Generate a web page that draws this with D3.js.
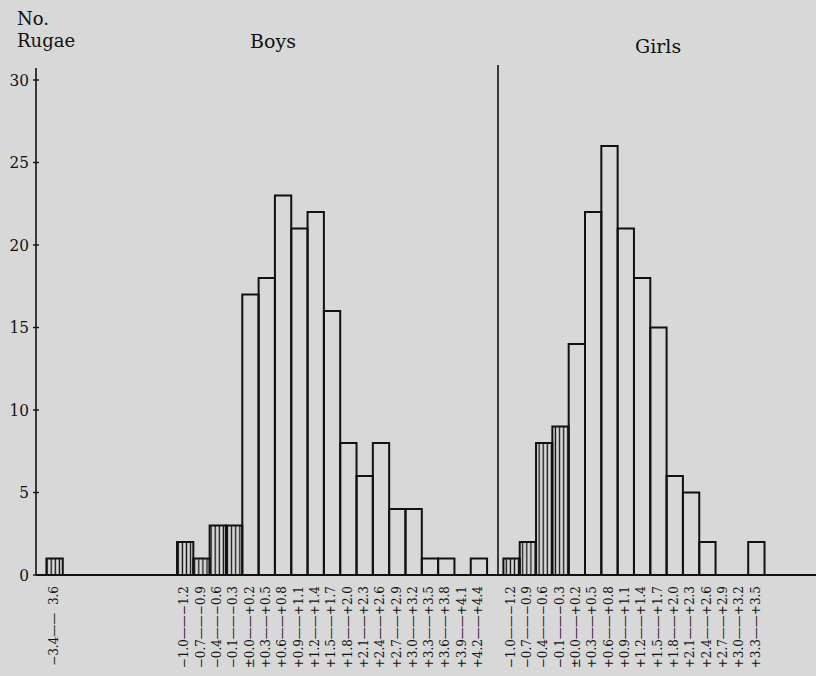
<!DOCTYPE html>
<html>
<head>
<meta charset="utf-8">
<script src="https://cdn.jsdelivr.net/npm/d3@7"></script>
<style>
  html, body { margin: 0; padding: 0; background: #d8d8d8; }
  svg { display: block; }
  text { font-family: "DejaVu Serif", "Liberation Serif", serif; fill: #111; }
</style>
</head>
<body>
<div id="chart"></div>
<script>
// Data
const boysBins = ["−1.0——−1.2","−0.7——−0.9","−0.4——−0.6","−0.1——−0.3","±0.0——+0.2",
  "+0.3——+0.5","+0.6——+0.8","+0.9——+1.1","+1.2——+1.4","+1.5——+1.7","+1.8——+2.0",
  "+2.1——+2.3","+2.4——+2.6","+2.7——+2.9","+3.0——+3.2","+3.3——+3.5","+3.6——+3.8",
  "+3.9——+4.1","+4.2——+4.4"];
const boysCounts = [2,1,3,3,17,18,23,21,22,16,8,6,8,4,4,1,1,0,1];

const girlsBins = ["−1.0——−1.2","−0.7——−0.9","−0.4——−0.6","−0.1——−0.3","±0.0——+0.2",
  "+0.3——+0.5","+0.6——+0.8","+0.9——+1.1","+1.2——+1.4","+1.5——+1.7","+1.8——+2.0",
  "+2.1——+2.3","+2.4——+2.6","+2.7——+2.9","+3.0——+3.2","+3.3——+3.5"];
const girlsCounts = [1,2,8,9,14,22,26,21,18,15,6,5,2,0,0,2];

// the lone boys' bar far to the left
const outlierBin = "−3.4——  3.6";
const outlierCenter = -3.5;
const outlierCount = 1;

const yTicks = [0,5,10,15,20,25,30];

// Layout
const width = 816, height = 676;
const firstCenter = -1.1, binStep = 0.3;   // boys' first bin centre and bin width
const girlsOffset = 20;                    // girls panel starts 20 bins to the right

const svg = d3.select("#chart").append("svg")
  .attr("width", width).attr("height", height);

svg.append("rect").attr("width", width).attr("height", height).attr("fill", "#d8d8d8");

// hatching for the negative bins
svg.append("defs").append("pattern")
    .attr("id", "hatch")
    .attr("patternUnits", "userSpaceOnUse")
    .attr("width", 4.1).attr("height", 10)
  .append("line")
    .attr("x1", 2).attr("x2", 2).attr("y1", 0).attr("y2", 10)
    .attr("stroke", "#111").attr("stroke-width", 1.3);

// scales: x in bin units, y in counts
const x = d3.scaleLinear().domain([0, 1]).range([177, 193.32]);
const y = d3.scaleLinear().domain([0, 30]).range([575, 80]);

// build one flat list of bars
const bars = [];
bars.push({label: outlierBin, count: outlierCount,
  idx: Math.round((outlierCenter - firstCenter) / binStep)});
boysBins.forEach((b, i) => bars.push({label: b, count: boysCounts[i], idx: i}));
girlsBins.forEach((b, i) => bars.push({label: b, count: girlsCounts[i], idx: i + girlsOffset}));

// bars
svg.append("g").selectAll("rect")
  .data(bars)
  .enter()
  .append("rect")
    .attr("x", d => x(d.idx))
    .attr("width", d => x(d.idx + 1) - x(d.idx))
    .attr("y", d => y(d.count))
    .attr("height", d => y(0) - y(d.count))
    .attr("fill", d => d.label.startsWith("−") ? "url(#hatch)" : "none")
    .attr("stroke", "#111")
    .attr("stroke-width", 2);

// x labels, rotated, reading upward
svg.append("g").selectAll("text")
  .data(bars)
  .enter()
  .append("text")
    .attr("transform", d => "translate(" + (x(d.idx + 0.5) - 1) + ",586) rotate(-90)")
    .attr("text-anchor", "end")
    .attr("dy", "0.35em")
    .style("font-size", "12px")
    .style("white-space", "pre")
    .text(d => d.label);

// baseline and y axis
svg.append("line")
  .attr("x1", 36).attr("x2", width).attr("y1", y(0)).attr("y2", y(0))
  .attr("stroke", "#111").attr("stroke-width", 2);

const yAxis = svg.append("g").attr("transform", "translate(36,0)");
yAxis.append("line")
  .attr("y1", 68).attr("y2", y(0))
  .attr("stroke", "#111").attr("stroke-width", 1.6);
yAxis.selectAll(".tick")
  .data(yTicks)
  .enter()
  .append("line")
    .attr("x1", -3).attr("x2", 3)
    .attr("y1", d => y(d)).attr("y2", d => y(d))
    .attr("stroke", "#111").attr("stroke-width", 1.4);
yAxis.selectAll(".lab")
  .data(yTicks)
  .enter()
  .append("text")
    .attr("x", -7)
    .attr("y", d => y(d))
    .attr("dy", "0.35em")
    .attr("text-anchor", "end")
    .style("font-size", "17px")
    .style("font-stretch", "condensed")
    .text(d => d);

// divider between panels
svg.append("line")
  .attr("x1", 498).attr("x2", 498).attr("y1", 65).attr("y2", y(0))
  .attr("stroke", "#111").attr("stroke-width", 1.6);

// headings
svg.append("text").attr("x", 17).attr("y", 25).style("font-size", "18px").text("No.");
svg.append("text").attr("x", 17).attr("y", 47).style("font-size", "18px").text("Rugae");
svg.append("text").attr("x", 250).attr("y", 48).style("font-size", "19px").text("Boys");
svg.append("text").attr("x", 635).attr("y", 53).style("font-size", "19px").text("Girls");
</script>
</body>
</html>
